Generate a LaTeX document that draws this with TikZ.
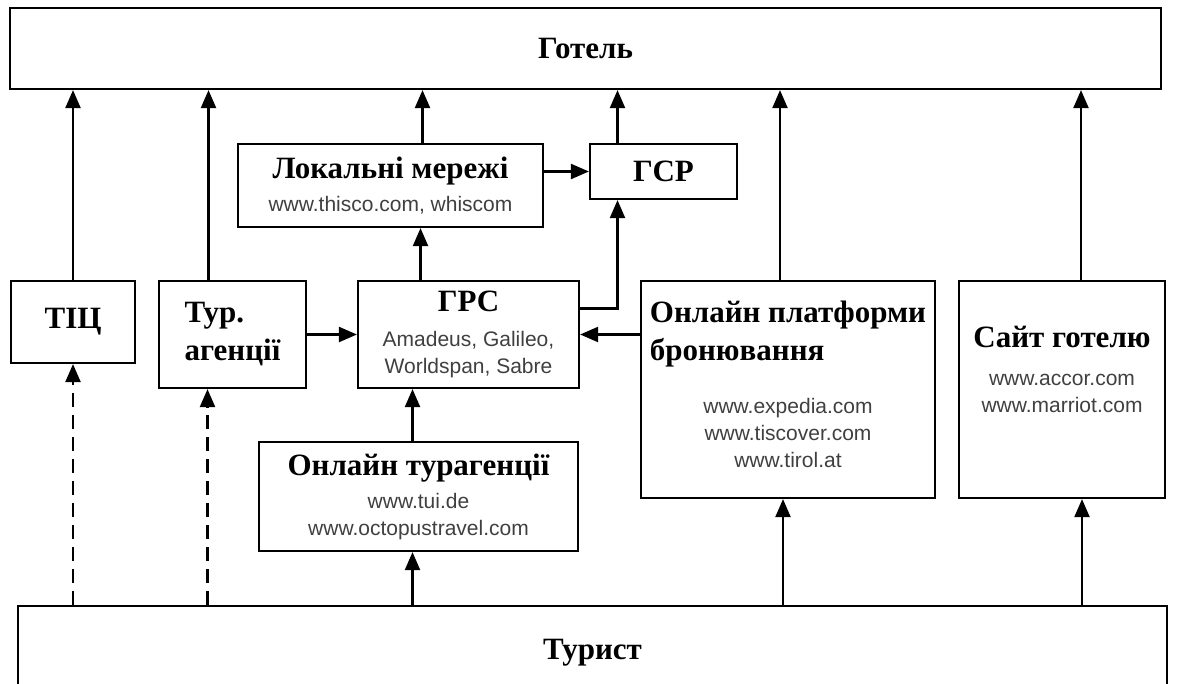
\documentclass[tikz,border=0pt]{standalone}
\usepackage{fontspec}
\setmainfont{Liberation Serif}
\newfontfamily\webfont{Liberation Sans}
\usetikzlibrary{arrows.meta, positioning}

\newcommand{\boxtitle}[1]{{\color{black}\rmfamily\bfseries\fontsize{15.5}{19}\selectfont #1}}

\begin{document}
\begin{tikzpicture}[x=0.5pt, y=-0.5pt,
  box/.style={draw, line width=1.1pt, inner sep=0pt, align=center,
    font=\webfont\fontsize{10.5}{13.5}\selectfont, text=black!75},
  titlebox/.style={box, font=\rmfamily\bfseries\fontsize{15.5}{19}\selectfont, text=black},
  arr/.style={line width=1.1pt, -{Triangle[length=9pt,width=7.5pt]}},
  dasharr/.style={arr, dash pattern=on 7pt off 4pt}]

\useasboundingbox[fill=white] (0,0) rectangle (1178,684);

% Hotel and tourist
\node[titlebox, minimum width=575.5pt, minimum height=40.5pt] (hotel) at (585.5,48.5) {Готель};
\node[titlebox, minimum width=574.5pt, minimum height=47pt] (tourist) at (592.5,653) {Турист};

% Left column
\node[titlebox, minimum width=62pt, minimum height=41pt] (tic) at (73,322) {ТІЦ};
\node[titlebox, align=left, minimum width=73.5pt, minimum height=53.5pt] (agency) at (232.5,334.5) {Тур.\\агенції};

% Reservation systems
\node[box, minimum width=110.5pt, minimum height=53.5pt] (grs) at (468.5,334.5)
  {\boxtitle{ГРС}\\[4pt]Amadeus, Galileo,\\Worldspan, Sabre};
\node[box, minimum width=152.5pt, minimum height=41.5pt] (local) at (390.5,185.5)
  {\boxtitle{Локальні мережі}\\[3pt]www.thisco.com, whiscom};
\node[titlebox, minimum width=73.5pt, minimum height=27.5pt] (gsr) at (663.5,171.5) {ГСР};
\node[box, minimum width=159.5pt, minimum height=54.5pt] (ota) at (418.5,496.5)
  {\boxtitle{Онлайн турагенції}\\[3pt]www.tui.de\\www.octopustravel.com};

% Online platforms and hotel site
\node[box, minimum width=147pt, minimum height=108.5pt] (platform) at (788,389.5) {};
\node[box, draw=none] (platform-text) at (788,382)
  {\boxtitle{\begin{tabular}[b]{@{}l@{}}Онлайн платформи\\бронювання\end{tabular}}\\[13pt]
   www.expedia.com\\www.tiscover.com\\www.tirol.at};
\node[box, minimum width=103pt, minimum height=108.5pt] (site) at (1062,389.5) {};
\node[box, draw=none] (site-text) at (1062,369)
  {\boxtitle{Сайт готелю}\\[5.5pt]www.accor.com\\www.marriot.com};

% Arrows to hotel
\draw[arr] (tic.north) -- (tic.north |- hotel.south);
\draw[arr] ([xshift=-12pt]agency.north) -- ([xshift=-12pt]agency.north |- hotel.south);
\draw[arr] ([xshift=16pt]local.north) -- ([xshift=16pt]local.north |- hotel.south);
\draw[arr] ([xshift=-23pt]gsr.north) -- ([xshift=-23pt]gsr.north |- hotel.south);
\draw[arr] ([xshift=-4pt]platform.north) -- ([xshift=-4pt]platform.north |- hotel.south);
\draw[arr] ([xshift=9.5pt]site.north) -- ([xshift=9.5pt]site.north |- hotel.south);

% Between systems
\draw[arr] (agency.east) -- (grs.west);
\draw[arr] ([xshift=-24pt]grs.north) -- ([xshift=-24pt]grs.north |- local.south);
\draw[arr] (local.east |- gsr.west) -- (gsr.west);
\draw[arr] ([yshift=13pt]grs.east) -| ([xshift=-23pt]gsr.south);
\draw[arr] (platform.west |- grs.east) -- (grs.east);
\draw[arr] ([xshift=-3pt]ota.north) -- ([xshift=-3pt]ota.north |- grs.south);

% From tourist
\draw[dasharr] (tic.south |- tourist.north) -- (tic.south);
\draw[dasharr] ([xshift=-12.5pt]agency.south |- tourist.north) -- ([xshift=-12.5pt]agency.south);
\draw[arr] ([xshift=-3pt]ota.south |- tourist.north) -- ([xshift=-3pt]ota.south);
\draw[arr] ([xshift=-2.5pt]platform.south |- tourist.north) -- ([xshift=-2.5pt]platform.south);
\draw[arr] ([xshift=10pt]site.south |- tourist.north) -- ([xshift=10pt]site.south);
\end{tikzpicture}
\end{document}
